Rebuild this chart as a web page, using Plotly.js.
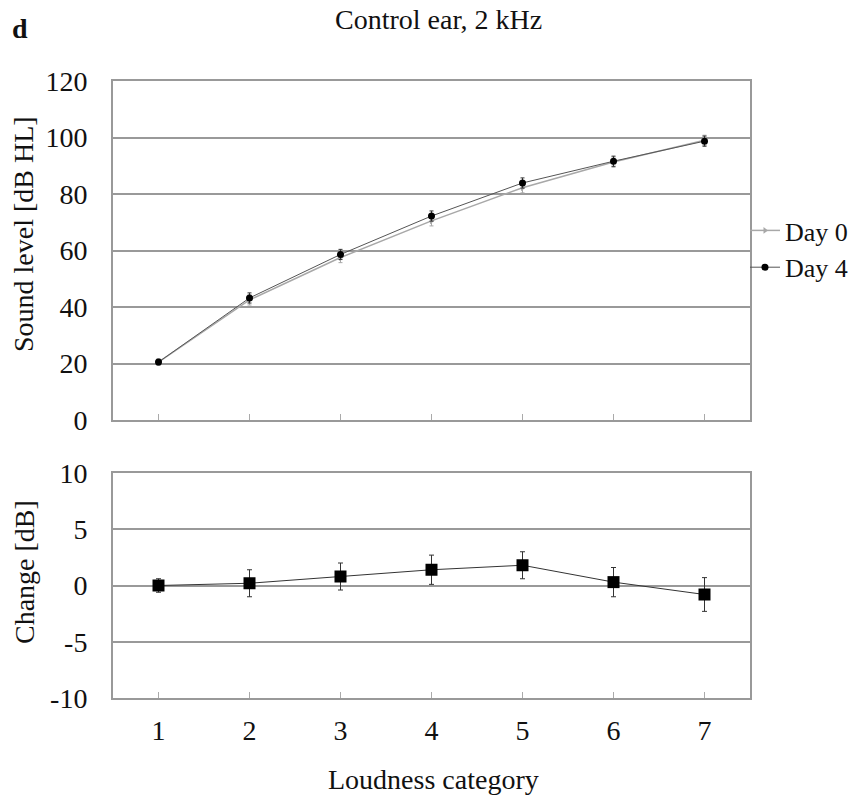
<!DOCTYPE html>
<html><head><meta charset="utf-8">
<script src="https://cdn.plot.ly/plotly-3.0.1.min.js"></script>
<style>body{margin:0;background:#fff}#plot{width:858px;height:798px}</style>
</head><body><div id="plot"></div>
<script>
const categories = [1, 2, 3, 4, 5, 6, 7];
const day0 = [20.5, 42.5, 57.5, 70.5, 82.2, 91.3, 99.0];
const day0Err = [1.0, 1.8, 1.8, 1.8, 1.8, 1.8, 1.8];
const day4 = [20.5, 43.2, 58.6, 72.2, 83.9, 91.6, 98.7];
const day4Err = [1.0, 1.8, 1.8, 1.8, 1.8, 1.8, 1.8];
const change = [0.0, 0.2, 0.8, 1.4, 1.8, 0.3, -0.8];
const changeErr = [0.6, 1.2, 1.2, 1.3, 1.2, 1.3, 1.5];
const topTicks = [0, 20, 40, 60, 80, 100, 120];
const bottomTicks = [-10, -5, 0, 5, 10];
const bottomTickText = ['-10', '-5', '0', '5', '10'];

const font = 'Liberation Serif, Times New Roman, serif';
const traces = [
  {x: categories, y: day0, name: 'Day 0', type: 'scatter', mode: 'lines+markers',
   line: {color: '#a8a8a8', width: 1.5}, marker: {symbol: 'triangle-right', size: 6, color: '#a8a8a8'},
   error_y: {type: 'data', array: day0Err, color: '#a8a8a8', thickness: 1, width: 2},
   xaxis: 'x', yaxis: 'y'},
  {x: categories, y: day4, name: 'Day 4', type: 'scatter', mode: 'lines+markers',
   line: {color: '#555', width: 1}, marker: {symbol: 'circle', size: 7, color: '#000'},
   error_y: {type: 'data', array: day4Err, color: '#333', thickness: 1, width: 2},
   xaxis: 'x', yaxis: 'y'},
  {x: categories, y: change, name: 'Change', type: 'scatter', mode: 'lines+markers', showlegend: false,
   line: {color: '#333', width: 1}, marker: {symbol: 'square', size: 12, color: '#000'},
   error_y: {type: 'data', array: changeErr, color: '#333', thickness: 1, width: 2.5},
   xaxis: 'x2', yaxis: 'y2'}
];

const gridc = '#999';
const axisCommon = {showline: true, mirror: true, linecolor: gridc, linewidth: 2, zeroline: false};
const L = 113, R = 750, W = R - L;
const layout = {
  width: 858, height: 798,
  margin: {l: L, r: 858 - R, t: 0, b: 0, autoexpand: false},
  paper_bgcolor: '#fff', plot_bgcolor: '#fff',
  font: {family: font, color: '#111', size: 28},
  showlegend: true,
  legend: {x: (745 - L) / W, y: 1 - 207/798, xanchor: 'left', yanchor: 'top',
           font: {size: 26, family: font}, bgcolor: 'rgba(0,0,0,0)', itemwidth: 30,
           tracegroupgap: 0, borderwidth: 0},
  xaxis: Object.assign({domain: [0, 1], range: [0.5, 7.5], anchor: 'y', tickvals: categories, showticklabels: false,
          showgrid: false, ticks: 'inside', ticklen: 6, tickcolor: '#aaa'}, axisCommon),
  yaxis: Object.assign({domain: [1 - 420/798, 1 - 81/798], range: [0, 120], tickvals: topTicks, anchor: 'x',
          showgrid: true, gridcolor: gridc, gridwidth: 2, ticks: '', ticklabelstandoff: 18,
          tickfont: {size: 28}}, axisCommon),
  xaxis2: Object.assign({domain: [0, 1], range: [0.5, 7.5], anchor: 'y2', tickvals: categories,
           showgrid: false, ticks: 'inside', ticklen: 6, tickcolor: '#aaa', ticklabelstandoff: 6,
           tickfont: {size: 28}}, axisCommon),
  yaxis2: Object.assign({domain: [1 - 698/798, 1 - 473/798], range: [-10, 10], tickvals: bottomTicks,
           ticktext: bottomTickText, anchor: 'x2', showgrid: true, gridcolor: gridc, gridwidth: 2,
           ticks: '', ticklabelstandoff: 18, tickfont: {size: 28}}, axisCommon),
  annotations: [
    {text: 'Control ear, 2 kHz', xref: 'paper', yref: 'paper', x: (438 - L) / W, y: 1 - 19/798,
     xanchor: 'center', yanchor: 'middle', showarrow: false, font: {size: 28}},
    {text: '<b>d</b>', xref: 'paper', yref: 'paper', x: (20 - L) / W, y: 1 - 28/798,
     xanchor: 'center', yanchor: 'middle', showarrow: false, font: {size: 28}},
    {text: 'Sound level [dB HL]', xref: 'paper', yref: 'paper', x: (24 - L) / W, y: 1 - 234/798,
     xanchor: 'center', yanchor: 'middle', textangle: -90, showarrow: false, font: {size: 28}},
    {text: 'Change [dB]', xref: 'paper', yref: 'paper', x: (24 - L) / W, y: 1 - 572/798,
     xanchor: 'center', yanchor: 'middle', textangle: -90, showarrow: false, font: {size: 28}},
    {text: 'Loudness category', xref: 'paper', yref: 'paper', x: (433 - L) / W, y: 1 - 779/798,
     xanchor: 'center', yanchor: 'middle', showarrow: false, font: {size: 28}}
  ]
};
Plotly.newPlot('plot', traces, layout, {displayModeBar: false, staticPlot: true});
</script></body></html>
